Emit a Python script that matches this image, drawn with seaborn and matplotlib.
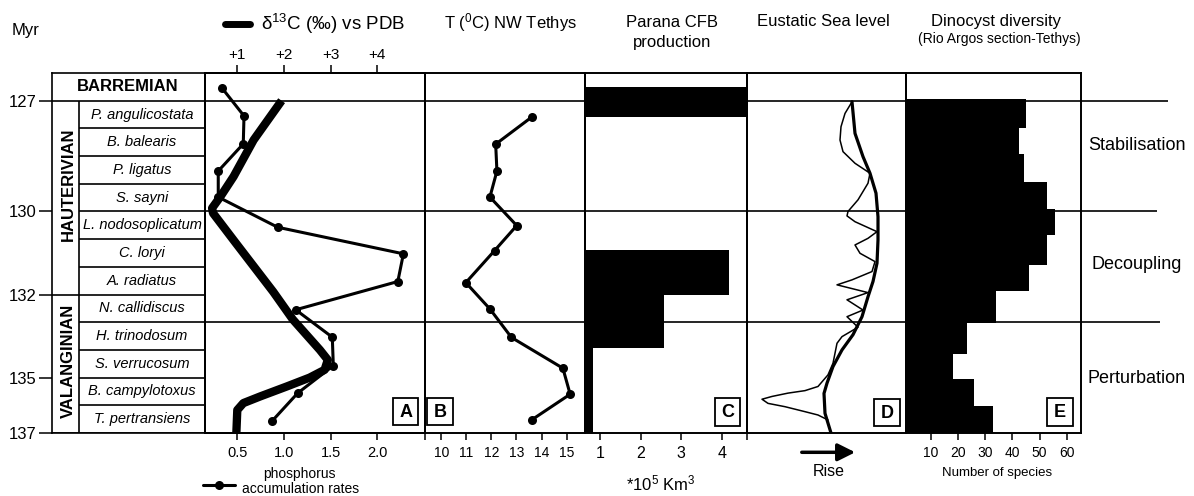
import matplotlib
matplotlib.use('Agg')
import matplotlib.pyplot as plt
import seaborn as sns
from matplotlib.lines import Line2D
from matplotlib.patches import Rectangle

# ---------------- data (vertical coordinate = biozone units, 0 = top of Barremian) -------------
myr_levels = [1, 5, 8, 11, 13]
myr_labels = ['127', '130', '132', '135', '137']

zones = ['P. angulicostata', 'B. balearis', 'P. ligatus', 'S. sayni', 'L. nodosoplicatum',
         'C. loryi', 'A. radiatus', 'N. callidiscus', 'H. trinodosum', 'S. verrucosum',
         'B. campylotoxus', 'T. pertransiens']
stages = ['BARREMIAN', 'HAUTERIVIAN', 'VALANGINIAN']
stage_top = [0, 1, 8]
stage_bottom = [1, 8, 13]

# A: phosphorus accumulation rates and d13C
phos_rate = [0.333, 0.572, 0.564, 0.296, 0.296, 0.933, 2.28, 2.22, 1.126, 1.518, 1.529, 1.147, 0.875]
phos_level = [0.53, 1.55, 2.56, 3.54, 4.48, 5.57, 6.53, 7.53, 8.55, 9.54, 10.57, 11.56, 12.56]
d13c_value = [1.95, 1.35, 0.92, 0.64, 0.46, 0.48, 0.95, 1.77, 2.19, 2.77, 2.94, 2.87, 2.55,
              2.06, 1.49, 1.13, 1.0, 0.98]
d13c_level = [1.0, 2.42, 3.74, 4.46, 4.88, 5.06, 6.1, 7.9, 8.9, 10.0, 10.36, 10.72, 11.0,
              11.32, 11.68, 11.92, 12.17, 13.0]

# B: temperature NW Tethys
temp_value = [13.61, 12.17, 12.22, 11.94, 13.01, 12.13, 10.98, 11.94, 12.80, 14.85, 15.14, 13.60]
temp_level = [1.59, 2.57, 3.54, 4.48, 5.51, 6.41, 7.57, 8.52, 9.55, 10.66, 11.6, 12.53]

# C: Parana CFB production (*10^5 km3)
cfb_top = [0.52, 6.39, 8.01, 9.94]
cfb_bottom = [1.6, 8.01, 9.94, 13.0]
cfb_volume = [4.7, 4.18, 2.58, 0.82]

# D: eustatic sea level (relative units, rise to the right)
sea_thin_x = [105, 98, 94, 93, 96, 108, 123, 121, 111, 101, 100, 108, 130, 121, 108, 113, 128, 125,
              105, 90, 121, 100, 116, 100, 111, 95, 90, 86, 81, 71, 58, 41, 25, 15, 21, 38, 58, 71, 81]
sea_thin_level = [1.04, 1.46, 1.94, 2.42, 2.84, 3.26, 3.62, 3.98, 4.58, 5.0, 5.16, 5.37, 5.73, 5.97,
                  6.21, 6.51, 6.81, 7.17, 7.47, 7.65, 7.93, 8.19, 8.56, 8.80, 9.18, 9.52, 9.76, 10.48,
                  10.9, 11.32, 11.47, 11.56, 11.68, 11.78, 11.93, 12.05, 12.23, 12.35, 12.53]
sea_thick_x = [105, 108, 116, 123, 129, 131, 131, 130, 126, 121, 115, 106, 95, 86, 80, 77, 78, 84]
sea_thick_level = [1.04, 2.18, 3.02, 3.62, 4.34, 5.19, 6.03, 6.87, 7.53, 8.08, 8.8, 9.45, 10.0,
                   10.6, 11.2, 11.57, 12.29, 13.0]

# E: dinocyst diversity
dino_top = [0.95, 1.97, 2.94, 3.93, 4.92, 5.85, 6.93, 7.86, 9.01, 10.14, 11.05, 12.02]
dino_bottom = [1.97, 2.94, 3.93, 4.92, 5.85, 6.93, 7.86, 9.01, 10.14, 11.05, 12.02, 13.0]
dino_species = [44.9, 42.4, 44.1, 52.6, 55.7, 52.6, 46.0, 33.8, 23.1, 18.0, 25.7, 32.7]

phase_names = ['Stabilisation', 'Decoupling', 'Perturbation']
phase_levels = [2.6, 6.93, 11.02]
boundary_levels = [1, 5, 9]

# ---------------- style ----------------
sns.set_style('ticks')
plt.rcParams['font.family'] = ['Liberation Sans', 'DejaVu Sans']
plt.rcParams['mathtext.fontset'] = 'custom'
plt.rcParams['mathtext.rm'] = 'Liberation Sans'
plt.rcParams['mathtext.it'] = 'Liberation Sans:italic'
plt.rcParams['mathtext.bf'] = 'Liberation Sans:bold'
plt.rcParams['mathtext.default'] = 'regular'
for k in ['text.color', 'axes.edgecolor', 'xtick.color', 'ytick.color', 'axes.labelcolor']:
    plt.rcParams[k] = 'black'

W, H = 1194, 496
fig = plt.figure(figsize=(W / 100, H / 100), dpi=100)
fig.patch.set_facecolor('white')
TOP, BOT = 73, 433


def rect(x0, y0, x1, y1):
    return [x0 / W, 1 - y1 / H, (x1 - x0) / W, (y1 - y0) / H]


def ftext(x, y, s, **kw):
    kw.setdefault('ha', 'center')
    kw.setdefault('va', 'center')
    return fig.text(x / W, 1 - y / H, s, **kw)


# long boundary lines across panels
ax_lines = fig.add_axes(rect(205, TOP, 1168, BOT))
ax_lines.set_xlim(205, 1168)
ax_lines.set_ylim(13, 0)
ax_lines.axis('off')
ax_lines.hlines(boundary_levels, 205, [1168, 1157, 1160], color='black', lw=1.2)
for name, lev in zip(phase_names, phase_levels):
    ax_lines.text(1137, lev, name, ha='center', va='center', fontsize=13, clip_on=False)

# stratigraphic column
ax_z = fig.add_axes(rect(52, TOP, 205, BOT))
ax_z.set_facecolor('none')
ax_z.set_xlim(52, 205)
ax_z.set_ylim(13, 0)
for s in ax_z.spines.values():
    s.set_visible(True)
    s.set_linewidth(1.2)
ax_z.set_xticks([])
ax_z.set_yticks(myr_levels)
ax_z.set_yticklabels(myr_labels, fontsize=12)
ax_z.tick_params(axis='y', direction='out', length=9.4, width=1.1, pad=1.7, left=True, right=False)
for t, b in zip(stage_top, stage_bottom):
    ax_z.hlines(b, 52, 205, color='black', lw=1.2)
for i, z in enumerate(zones):
    lo = i + 2
    if lo not in stage_bottom:
        ax_z.hlines(lo, 79, 205, color='black', lw=1.2)
    ax_z.text(142, i + 1.5, z, ha='center', va='center', fontsize=10.5, style='italic')
ax_z.vlines(79, 1, 13, color='black', lw=1.2)
ax_z.text(128, 0.5, stages[0], ha='center', va='center', fontsize=12, weight='bold')
ax_z.text(68.5, 4.0, stages[1], ha='center', va='center', fontsize=12, weight='bold', rotation=90)
ax_z.text(68.5, 10.4, stages[2], ha='center', va='center', fontsize=12, weight='bold', rotation=90)


def panel(x0, x1):
    ax = fig.add_axes(rect(x0, TOP, x1, BOT))
    ax.set_facecolor('none')
    return ax


def finish(ax, xlim, ticks, labels, size):
    ax.set_xlim(*xlim)
    ax.set_ylim(13, 0)
    ax.set_yticks([])
    ax.set_xlabel('')
    ax.set_ylabel('')
    for s in ax.spines.values():
        s.set_visible(True)
        s.set_linewidth(1.4)
        s.set_color('black')
    ax.set_xticks(ticks)
    ax.set_xticklabels(labels, fontsize=size)
    ax.tick_params(axis='x', direction='out', length=5, width=1.1, pad=4.5,
                   bottom=True, top=False, labelbottom=True, labeltop=False)


# Panel A
ax_a = panel(205, 424.5)
sns.lineplot(x=phos_rate, y=phos_level, sort=False, estimator=None, ax=ax_a, color='black',
             lw=2.2, marker='o', markersize=6.5, markeredgewidth=0)
ax_t = ax_a.twiny()
sns.lineplot(x=d13c_value, y=d13c_level, sort=False, estimator=None, ax=ax_t, color='black',
             lw=6, solid_capstyle='butt')
a_lim = (0.154, 2.506)
finish(ax_a, a_lim, [0.5, 1.0, 1.5, 2.0], ['0.5', '1.0', '1.5', '2.0'], 10.5)
ax_t.set_xlim(2 * a_lim[0], 2 * a_lim[1])
ax_t.set_ylim(13, 0)
ax_t.set_xlabel('')
ax_t.set_ylabel('')
ax_t.set_yticks([])
ax_t.set_xticks([1, 2, 3, 4])
ax_t.set_xticklabels(['+1', '+2', '+3', '+4'], fontsize=11)
ax_t.tick_params(axis='x', direction='out', length=5.8, width=1.1, pad=2,
                 top=True, bottom=False, labeltop=True, labelbottom=False)
for s in ax_t.spines.values():
    s.set_linewidth(1.4)

# Panel B
ax_b = panel(424.5, 585)
sns.lineplot(x=temp_value, y=temp_level, sort=False, estimator=None, ax=ax_b, color='black',
             lw=2.2, marker='o', markersize=6.5, markeredgewidth=0)
b_lim = (9.332, 15.732)
finish(ax_b, b_lim, [b_lim[0], 10, 11, 12, 13, 14, 15], ['', '10', '11', '12', '13', '14', '15'], 10)

# Panel C
ax_c = panel(585, 747)
c_center = [(t + b) / 2 for t, b in zip(cfb_top, cfb_bottom)]
c_height = [b - t for t, b in zip(cfb_top, cfb_bottom)]
ax_c.barh(c_center, cfb_volume, height=c_height, left=0, color='black', edgecolor='none')
finish(ax_c, (0.631, 4.624), [1, 2, 3, 4], ['1', '2', '3', '4'], 11.5)

# Panel D
ax_d = panel(747, 906)
sns.lineplot(x=sea_thin_x, y=sea_thin_level, sort=False, estimator=None, ax=ax_d, color='black', lw=1.1)
sns.lineplot(x=sea_thick_x, y=sea_thick_level, sort=False, estimator=None, ax=ax_d, color='black', lw=2.3)
finish(ax_d, (0, 159), [0], [''], 10)

# Panel E
ax_e = panel(906, 1081)
e_center = [(t + b) / 2 for t, b in zip(dino_top, dino_bottom)]
e_height = [b - t for t, b in zip(dino_top, dino_bottom)]
ax_e.barh(e_center, dino_species, height=e_height, left=0, color='black', edgecolor='none')
finish(ax_e, (0.77, 65.25), [10, 20, 30, 40, 50, 60], ['10', '20', '30', '40', '50', '60'], 10)

# panel letters
for letter, (x0, x1, y0, y1) in zip('ABCDE', [(393.3, 418.3, 398.3, 425), (427.3, 453.3, 398.3, 425),
                                              (715, 740, 398, 426), (874.3, 900, 399, 426),
                                              (1046.7, 1073.3, 398, 426)]):
    fig.add_artist(Rectangle((x0 / W, 1 - y1 / H), (x1 - x0) / W, (y1 - y0) / H,
                             transform=fig.transFigure, facecolor='white', edgecolor='black', lw=1.3))
    ftext((x0 + x1) / 2, (y0 + y1) / 2 + 0.5, letter, fontsize=13, weight='bold')

# titles and labels
ftext(11.7, 30, 'Myr', ha='left', fontsize=12)
fig.add_artist(Line2D([225 / W, 250 / W], [1 - 24 / H, 1 - 24 / H], lw=5, color='black',
                      transform=fig.transFigure))
ftext(261, 24, 'δ$^{13}$C (‰) vs PDB', ha='left', fontsize=13.5)
ftext(511, 22.7, 'T ($^0$C) NW Tethys', fontsize=12)
ftext(672.5, 22.7, 'Parana CFB', fontsize=12)
ftext(672.5, 42.7, 'production', fontsize=12)
ftext(823.3, 21.7, 'Eustatic Sea level', fontsize=12)
ftext(996.2, 21.7, 'Dinocyst diversity', fontsize=12)
ftext(999.2, 39.3, '(Rio Argos section-Tethys)', fontsize=10)

ftext(299, 474, 'phosphorus', fontsize=10)
ftext(301, 489, 'accumulation rates', fontsize=10)
fig.add_artist(Line2D([202.7 / W, 235 / W], [1 - 485 / H, 1 - 485 / H], lw=2.2, color='black',
                      transform=fig.transFigure))
fig.add_artist(Line2D([219.3 / W], [1 - 485 / H], marker='o', markersize=6.5, color='black',
                      markeredgewidth=0, transform=fig.transFigure))
ftext(661, 483.3, '*10$^5$ Km$^3$', fontsize=12)
fig.add_artist(matplotlib.patches.FancyArrowPatch((799 / W, 1 - 452.3 / H), (858 / W, 1 - 452.3 / H),
                                                  transform=fig.transFigure,
                                                  arrowstyle='-|>,head_length=0.7,head_width=0.35',
                                                  mutation_scale=15, lw=2.5, color='black'))
ftext(829, 471.7, 'Rise', fontsize=11.5)
ftext(996.7, 472.7, 'Number of species', fontsize=9.5)

fig.savefig('out.png', dpi=100, facecolor='white')
